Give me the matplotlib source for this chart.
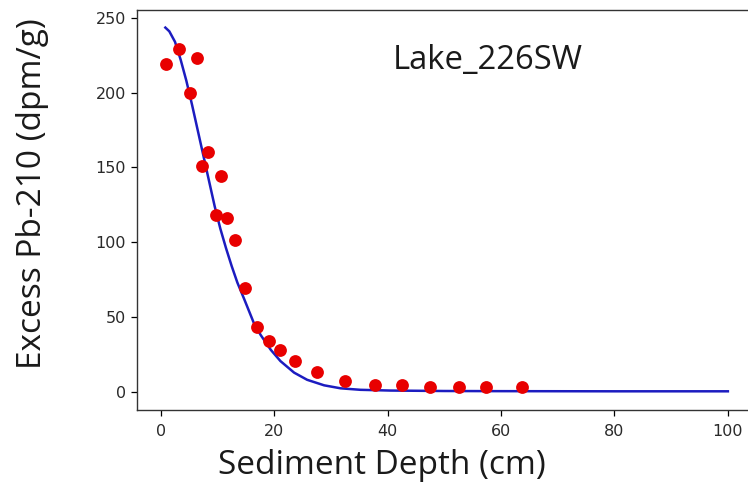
import matplotlib
matplotlib.use("Agg")
import matplotlib.pyplot as plt

# Measured data points (depth cm, excess Pb-210 dpm/g)
depth = [0.9, 3.2, 5.1, 6.3, 7.3, 8.3, 9.7, 10.6, 11.6, 13.0, 14.8, 17.0, 19.0,
         21.1, 23.6, 27.5, 32.4, 37.8, 42.5, 47.5, 52.6, 57.4, 63.7]
activity = [219, 229, 199.5, 223, 151, 160, 118, 144, 116, 101.5, 69.6, 43.4, 34,
            28, 20.8, 13.5, 7.3, 4.7, 4.7, 3.5, 3.5, 3.5, 3.5]

# Fitted curve
fit_depth = [0.8, 1.5, 2.5, 3.5, 4.5, 5.5, 6.5, 7.5, 8.5, 9.5, 10.5, 11.5, 12.5,
             13.5, 14.7, 16.4, 17.6, 19.4, 21.1, 23.5, 25.8, 28.8, 31.7, 35.2,
             40.5, 50, 60, 80, 100]
fit_activity = [243.5, 241, 234, 222, 208, 192, 175, 158, 141, 124, 109, 96, 84,
                73, 62, 46, 38, 28, 20.5, 12.8, 8, 4.3, 2.3, 1.3,
                0.8, 0.5, 0.4, 0.3, 0.3]

x_ticks = [0, 20, 40, 60, 80, 100]
y_ticks = [0, 50, 100, 150, 200, 250]

fig = plt.figure(figsize=(7.48, 4.88), dpi=100)
ax = fig.add_axes([137 / 748, 1 - 410 / 488, 619 / 748, 400.5 / 488])

ax.plot(fit_depth, fit_activity, color="#1c1cc0", lw=1.8, zorder=2)
ax.scatter(depth, activity, s=85, color="#e80000", zorder=3, linewidths=0)

ax.set_xlim(-4.2, 104.96)
ax.set_ylim(-12.2, 255.6)
ax.set_xticks(x_ticks)
ax.set_yticks(y_ticks)
ax.tick_params(labelsize=11.5, labelcolor="#2a2a2a", length=4.5, width=0.9)
ax.tick_params(axis="x", pad=5.5)
for lab in ax.get_xticklabels() + ax.get_yticklabels():
    lab.set_family("DejaVu Sans")
for sp in ax.spines.values():
    sp.set_color("#333333")
    sp.set_linewidth(1.0)

fig.text(381.5 / 748, 1 - 466 / 488, "Sediment Depth (cm)", family="Open Sans",
         fontsize=24, ha="center", va="center", color="#1a1a1a")
fig.text(33 / 748, 1 - 193.5 / 488, "Excess Pb-210 (dpm/g)", family="Open Sans",
         fontsize=24, ha="center", va="center", rotation=90, color="#1a1a1a")
fig.text(487.5 / 748, 1 - 69 / 488, "Lake_226SW", family="Open Sans",
         fontsize=23.6, ha="center", va="baseline", color="#1a1a1a")

fig.savefig("out.png", dpi=100)
